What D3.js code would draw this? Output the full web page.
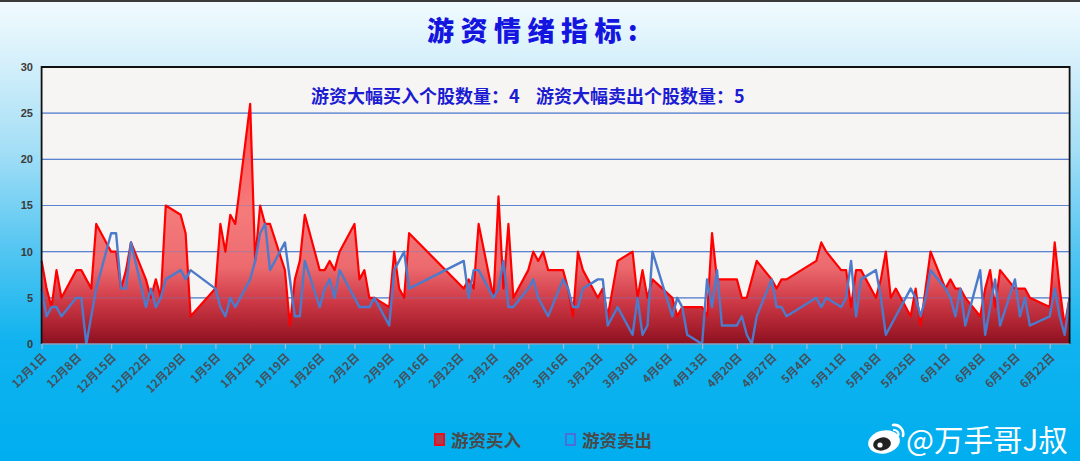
<!DOCTYPE html>
<html><head><meta charset="utf-8">
<script src="https://cdn.jsdelivr.net/npm/d3@7/dist/d3.min.js"></script>
<style>
html,body{margin:0;padding:0;width:1080px;height:461px;overflow:hidden;background:#00aeef;}
svg{display:block;}
</style></head><body>
<svg id="c" width="1080" height="461"></svg>
<script>
// ---------- data ----------
const dates = [
 "12/1","12/2","12/3","12/4","12/5","12/8","12/9","12/10","12/11","12/12","12/15","12/16","12/17","12/18","12/19","12/22","12/23","12/24","12/25","12/26","12/29","12/30","12/31",
 "1/5","1/6","1/7","1/8","1/9","1/12","1/13","1/14","1/15","1/16","1/19","1/20","1/21","1/22","1/23","1/26","1/27","1/28","1/29","1/30",
 "2/2","2/3","2/4","2/5","2/6","2/9","2/10","2/11","2/12","2/13","2/24","2/25","2/26","2/27",
 "3/2","3/3","3/4","3/5","3/6","3/9","3/10","3/11","3/12","3/13","3/16","3/17","3/18","3/19","3/20","3/23","3/24","3/25","3/26","3/27","3/30","3/31",
 "4/1","4/2","4/3","4/7","4/8","4/9","4/10","4/13","4/14","4/15","4/16","4/17","4/20","4/21","4/22","4/23","4/24","4/27","4/28","4/29","4/30",
 "5/6","5/7","5/8","5/11","5/12","5/13","5/14","5/15","5/18","5/19","5/20","5/21","5/22","5/25","5/26","5/27","5/28","5/29",
 "6/1","6/2","6/3","6/4","6/5","6/8","6/9","6/10","6/11","6/12","6/15","6/16","6/17","6/18","6/22","6/23","6/24","6/25","6/26"
];
const buyValues = [
 9,6,4,8,5, 8,8,7,6,13, 10,10,6,8,11, 7,5,7,5,15, 14,12,3,
 6,13,10,14,13, 26,9,15,13,13, 8,2,7,9,14, 8,8,9,8,10,
 13,7,8,5,5, 4,10,6,5,12, 6,7,6,13,
 5,16,6,13,5, 8,10,9,10,8, 8,6,3,10,8, 5,6,3,6,9, 10,5,
 8,5,7, 5,3,4,4, 4,3,12,7,7, 7,5,5,7,9, 7,6,7,7,
 9,11,10, 8,8,4,8,8, 5,7,10,5,6, 3,6,2,6,10,
 6,7,6,6,5, 3,6,8,4,8, 6,6,6,5, 4,11,6,2,5
];
const sellValues = [
 6,3,4,4,3, 5,5,0,3,6, 12,12,6,6,11, 4,6,4,5,7, 8,7,8,
 6,4,3,5,4, 7,9,12,13,8, 11,7,3,3,9, 4,6,7,5,8,
 5,4,4,4,5, 2,8,9,10,6, 9,5,8,8,
 5,6,9,4,4, 6,7,5,4,3, 7,6,4,4,6, 7,7,2,3,4, 1,5,
 1,2,10, 3,5,4,1, 0,7,4,8,2, 2,3,1,0,3, 7,4,4,3,
 5,4,5, 4,5,9,3,7, 8,5,1,2,3, 6,5,3,5,8,
 6,5,3,6,2, 8,1,4,7,2, 7,3,5,2, 3,6,3,1,5
];
const tickLabels = ["12月1日","12月8日","12月15日","12月22日","12月29日","1月5日","1月12日","1月19日","1月26日","2月2日","2月9日","2月16日","2月23日","3月2日","3月9日","3月16日","3月23日","3月30日","4月6日","4月13日","4月20日","4月27日","5月4日","5月11日","5月18日","5月25日","6月1日","6月8日","6月15日","6月22日"];
const yTicks = [0,5,10,15,20,25,30];
const titleText = "游资情绪指标:";
const noteBuy = "游资大幅买入个股数量：4";
const noteSell = "游资大幅卖出个股数量：5";
const legendLabels = ["游资买入","游资卖出"];
const watermark = "@万手哥J叔";

// ---------- helpers ----------
function mkDate(m, d){ return new Date(m >= 12 ? 2025 : 2026, m - 1, d); }
function parseMD(s){ const p = s.split("/").map(Number); return mkDate(p[0], p[1]); }
function parseCN(s){ const m = s.match(/(\d+)月(\d+)日/); return mkDate(+m[1], +m[2]); }

const data = dates.map((s,i)=>({date:parseMD(s), buy:buyValues[i], sell:sellValues[i]}));

const W = 1080, H = 461;
const L = 41.6, R = 1069.6, T = 67, B = 344;
const x = d3.scaleTime().domain([data[0].date, data[data.length-1].date]).range([L, R]);
const y = d3.scaleLinear().domain([0,30]).range([B, T]);

const svg = d3.select("#c");
const defs = svg.append("defs");

// background gradient
const bg = defs.append("linearGradient").attr("id","bg").attr("x1",0).attr("y1",0).attr("x2",0).attr("y2",1);
[[0,"#f2fbfe"],[0.13,"#d6f0fb"],[0.33,"#a2def6"],[0.53,"#58c7f2"],[0.74,"#10b3ef"],[1,"#00aeef"]]
  .forEach(s=>bg.append("stop").attr("offset",s[0]).attr("stop-color",s[1]));
svg.append("rect").attr("width",W).attr("height",H).attr("fill","url(#bg)");
svg.append("rect").attr("width",W).attr("height",2).attr("fill","#3b3b3b");

// area gradient (by value)
const ag = defs.append("linearGradient").attr("id","ag").attr("gradientUnits","userSpaceOnUse")
  .attr("x1",0).attr("x2",0).attr("y1",y(26)).attr("y2",y(0));
[[0,"#ff5252"],[0.45,"#f57b7b"],[0.68,"#ec6a6e"],[0.82,"#cf3a47"],[0.93,"#a9202e"],[1,"#8a1020"]]
  .forEach(s=>ag.append("stop").attr("offset",s[0]).attr("stop-color",s[1]));

// plot background
svg.append("rect").attr("x",L).attr("y",T).attr("width",R-L).attr("height",B-T).attr("fill","#f7f5f3");

// gridlines
const gridVals = yTicks.filter(v=>v>0 && v<30);
function grid(op){
  svg.append("g").selectAll("line").data(gridVals).join("line")
    .attr("x1",L).attr("x2",R).attr("y1",d=>y(d)).attr("y2",d=>y(d))
    .attr("stroke","#5b83cf").attr("stroke-width",1.1).attr("stroke-opacity",op);
}
grid(1);

// red area + line
svg.append("path").datum(data)
  .attr("d", d3.area().x(d=>x(d.date)).y0(y(0)).y1(d=>y(d.buy)))
  .attr("fill","url(#ag)");
grid(0.35);
svg.append("path").datum(data)
  .attr("d", d3.line().x(d=>x(d.date)).y(d=>y(d.buy)))
  .attr("fill","none").attr("stroke","#ff0000").attr("stroke-width",2.2).attr("stroke-linejoin","round");
// blue line
svg.append("path").datum(data)
  .attr("d", d3.line().x(d=>x(d.date)).y(d=>y(d.sell)))
  .attr("fill","none").attr("stroke","#4d7bcb").attr("stroke-width",2.4).attr("stroke-linejoin","round");

// plot border (top, left, right)
svg.append("path").attr("d",`M${L},${B}V${T}H${R}V${B}`).attr("fill","none").attr("stroke","#111").attr("stroke-width",1.8);

// y axis labels
svg.append("g").selectAll("text").data(yTicks).join("text")
  .attr("x",33).attr("y",d=>y(d)).attr("dy","0.35em").attr("text-anchor","end")
  .attr("font-family","'Liberation Sans Narrow','Arial Narrow','Liberation Sans',sans-serif")
  .attr("font-weight","bold").attr("font-size",11).attr("fill","#3a3a3a").text(d=>d);

// x axis
const tickDates = tickLabels.map(parseCN);
const xa = svg.append("g").attr("transform",`translate(0,${B})`)
  .call(d3.axisBottom(x).tickValues(tickDates).tickSize(5).tickFormat((d,i)=>tickLabels[i]));
xa.select(".domain").attr("stroke","#8aa0c0").attr("stroke-width",1.6).attr("d",`M${L},0H${R}`);
xa.selectAll(".tick line").attr("stroke","#a9b8d0").attr("stroke-width",1.2);
xa.selectAll(".tick text")
  .attr("font-family","'Noto Sans CJK SC',sans-serif").attr("font-weight","bold").attr("font-size",11.5)
  .attr("fill","#44505c").attr("text-anchor","end").attr("dy",null)
  .attr("transform","translate(3,12) rotate(-45)").attr("y",0).attr("x",0).attr("dominant-baseline","middle");

// title
svg.append("text").attr("x",427).attr("y",41).attr("font-family","'Noto Sans CJK SC',sans-serif")
  .attr("font-weight",900).attr("font-size",27).attr("letter-spacing",6.5).attr("fill","#1515e0").text(titleText);

// annotations
const noteStyle = t=>t.attr("font-family","'Noto Sans CJK SC',sans-serif").attr("font-weight","bold")
  .attr("font-size",18).attr("fill","#1c1cd2");
svg.append("text").attr("x",311).attr("y",103).call(noteStyle).text(noteBuy);
svg.append("text").attr("x",536).attr("y",103).call(noteStyle).text(noteSell);

// legend
svg.append("rect").attr("x",435).attr("y",434).attr("width",9).attr("height",11)
  .attr("fill","#b3384a").attr("stroke","#e8101c").attr("stroke-width",2);
svg.append("rect").attr("x",566).attr("y",434).attr("width",9).attr("height",11)
  .attr("fill","none").attr("stroke","#4a6fd8").attr("stroke-width",2);
const legStyle = t=>t.attr("font-family","'Noto Sans CJK SC',sans-serif").attr("font-weight","bold")
  .attr("font-size",17.5).attr("fill","#4a4a4a");
svg.append("text").attr("x",451).attr("y",446.5).call(legStyle).text(legendLabels[0]);
svg.append("text").attr("x",582).attr("y",446.5).call(legStyle).text(legendLabels[1]);

// watermark (weibo-like logo + text)
const wm = svg.append("g");
wm.append("ellipse").attr("cx",884).attr("cy",442).attr("rx",16).attr("ry",11.5).attr("fill","#ffffff")
  .attr("transform","rotate(-12,884,442)");
wm.append("ellipse").attr("cx",882).attr("cy",444).attr("rx",9).attr("ry",6.5).attr("fill","#222")
  .attr("transform","rotate(-12,882,444)");
wm.append("circle").attr("cx",880).attr("cy",445).attr("r",2.6).attr("fill","#fff");
wm.append("path").attr("d","M893,425 A9,9 0 0 1 903,436").attr("fill","none").attr("stroke","#fff").attr("stroke-width",2.6).attr("stroke-linecap","round");
wm.append("path").attr("d","M894,430 A4.5,4.5 0 0 1 898.5,435").attr("fill","none").attr("stroke","#fff").attr("stroke-width",2.2).attr("stroke-linecap","round");
svg.append("text").attr("x",906).attr("y",451).attr("font-family","'Noto Sans CJK SC',sans-serif")
  .attr("font-size",29.5).attr("fill","#ffffff").text(watermark);
</script>
</body></html>
